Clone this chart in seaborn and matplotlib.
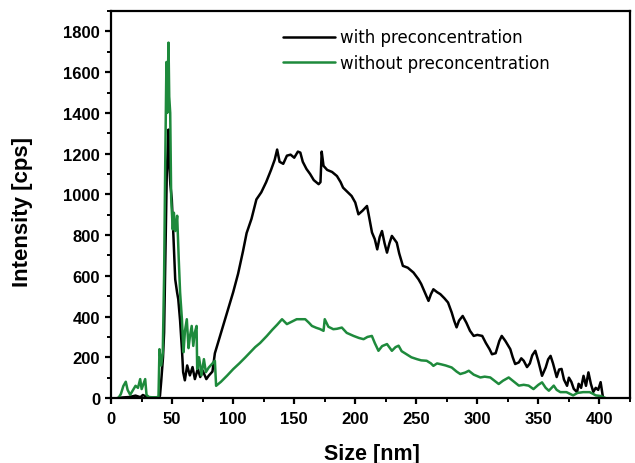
import matplotlib
matplotlib.use("Agg")
import matplotlib.pyplot as plt
from matplotlib.ticker import MultipleLocator
import pandas as pd
import seaborn as sns

# size [nm] / intensity [cps]
with_x = [5, 10, 15, 20, 24, 26, 30, 35, 39, 40, 41, 42.5, 43.4, 44.8, 45.6, 47, 47.7, 48.5, 49.7, 51,
          52.5, 54, 55, 56.5, 58, 59, 60.4, 62.3, 64.5, 66.7, 68.6, 71, 73, 75, 78, 80, 83, 85, 88, 92,
          96, 100, 104, 108, 111, 115, 119, 123, 127, 131, 134, 136, 138, 141, 144, 147, 150, 153, 155, 157,
          160, 163, 166, 168, 170, 171.5, 172.5, 174, 177, 181, 185, 188, 190, 194, 197, 200, 202.6, 206, 209.6, 211,
          213.7, 216, 218, 220, 221.9, 224, 226, 228, 230, 234, 236, 239, 243, 247.7, 251.8, 254, 257, 260, 262, 264,
          267, 269.7, 273, 276, 279, 281, 283, 285, 288, 291, 294, 297, 300, 304, 307, 310, 312, 315, 318, 320,
          323, 325, 327, 329, 331, 334, 336, 338, 340.7, 343, 345, 347.5, 350, 353, 356, 358, 360, 362, 365, 367,
          369, 371, 373.5, 375, 377, 379, 381.7, 383, 385, 387, 389, 391, 393, 395, 397, 399, 401, 402, 403]
with_y = [0, 3, 5, 12, 4, 15, 3, 2, 5, 10, 80, 200, 322, 812, 1106, 1318, 1140, 1050, 975, 800,
          583, 520, 485, 380, 240, 127, 87, 160, 111, 152, 93, 143, 103, 135, 93, 110, 130, 220, 280, 360,
          440, 520, 610, 720, 810, 880, 975, 1010, 1060, 1120, 1170, 1220, 1160, 1150, 1190, 1195, 1180, 1210, 1205, 1160,
          1125, 1100, 1070, 1060, 1050, 1060, 1210, 1140, 1120, 1110, 1090, 1060, 1033, 1010, 992, 960, 902, 920, 943, 900,
          813, 780, 730, 790, 820, 760, 714, 760, 796, 763, 710, 649, 640, 616, 583, 560, 518, 477, 510, 534,
          520, 510, 490, 469, 420, 380, 347, 380, 403, 370, 330, 305, 310, 305, 270, 240, 215, 220, 280, 305,
          280, 260, 240, 200, 167, 175, 195, 183, 152, 170, 210, 232, 180, 109, 150, 190, 207, 170, 103, 140,
          143, 90, 60, 100, 80, 45, 29, 70, 50, 109, 60, 126, 70, 30, 50, 40, 78, 40, 0]

without_x = [6, 8, 10, 12, 13.5, 15.6, 18, 20, 22, 23.8, 25, 26.5, 27.9, 29, 31, 35, 38.8, 39.6, 41, 42.3,
             43.4, 44.3, 45.3, 46, 47, 47.6, 48.4, 49.2, 50.5, 51.4, 52.5, 53.3, 54.1, 55.4, 56.5, 58, 59.3, 60.5, 62, 63.4,
             64.5, 66, 67.3, 68.5, 70, 70.5, 72, 73, 74, 76, 77.6, 80, 83, 85, 86, 90, 95, 100, 105, 110,
             114, 118, 122, 127.6, 132, 136, 140, 144, 148, 152, 155, 159, 162, 164.5, 168, 171, 174, 175, 178, 182,
             185, 189, 193, 198.6, 203, 206.8, 210, 213.6, 216, 219, 222, 226, 230, 233, 235.5, 238, 242, 246, 250.5, 254,
             258.5, 262, 264, 267, 270, 274, 279, 283, 286, 290, 293, 297, 302.5, 306, 310.6, 314, 317.5, 321, 325.7, 329,
             334, 338, 342, 346, 350, 353, 356, 358.6, 362.6, 365, 368, 373, 378.5, 382, 386.7, 392, 395, 397, 401, 405]
without_y = [0, 20, 59, 80, 40, 16, 40, 60, 50, 93, 44, 70, 93, 15, 5, 3, 5, 240, 160, 220,
             600, 1139, 1650, 1400, 1745, 1480, 1400, 980, 828, 910, 820, 845, 895, 681, 519, 387, 225, 330, 387, 245,
             300, 354, 256, 320, 354, 143, 200, 160, 111, 191, 127, 150, 170, 183, 60, 80, 110, 142, 170, 200,
             225, 250, 270, 305, 335, 360, 387, 363, 375, 387, 387, 387, 370, 354, 345, 339, 330, 387, 350, 338,
             340, 346, 320, 305, 295, 289, 300, 305, 270, 232, 255, 265, 232, 250, 257, 230, 215, 200, 191, 185,
             183, 170, 158, 170, 166, 160, 150, 130, 118, 125, 134, 115, 101, 105, 101, 85, 69, 85, 101, 85,
             61, 65, 61, 44, 65, 77, 50, 36, 61, 40, 29, 29, 13, 25, 29, 29, 20, 13, 10, 0]

labels = ["with preconcentration", "without preconcentration"]
colors = ["#000000", "#1e8a3c"]


def main():
    sns.set_style("ticks")
    plt.rcParams["font.family"] = ["Liberation Sans", "DejaVu Sans"]
    plt.rcParams["text.color"] = "black"
    plt.rcParams["axes.labelcolor"] = "black"

    fig = plt.figure(figsize=(6.35, 4.64), dpi=100)
    ax = fig.add_axes([0.175, 0.140, 0.817, 0.834])

    df = pd.concat([
        pd.DataFrame({"size": with_x, "intensity": with_y, "sample": labels[0]}),
        pd.DataFrame({"size": without_x, "intensity": without_y, "sample": labels[1]}),
    ])
    sns.lineplot(data=df, x="size", y="intensity", hue="sample", palette=colors,
                 estimator=None, sort=False, linewidth=1.8, ax=ax)

    ax.set_xlim(0, 425)
    ax.set_ylim(0, 1900)
    ax.xaxis.set_major_locator(MultipleLocator(50))
    ax.xaxis.set_minor_locator(MultipleLocator(25))
    ax.yaxis.set_major_locator(MultipleLocator(200))
    ax.yaxis.set_minor_locator(MultipleLocator(100))
    ax.yaxis.set_major_formatter(lambda v, p: f"{v:.0f}" if v <= 1800 else "")

    for s in ax.spines.values():
        s.set_linewidth(1.6)
        s.set_color("black")
    ax.tick_params(which="major", direction="out", length=4.5, width=1.6, labelsize=12,
                   colors="black", labelcolor="black")
    ax.tick_params(which="minor", direction="out", length=3, width=1.4, colors="black")
    ax.tick_params(axis="x", which="major", pad=5)
    for lab in ax.get_xticklabels() + ax.get_yticklabels():
        lab.set_fontweight("bold")

    ax.set_xlabel("Size [nm]", fontsize=15.5, fontweight="bold")
    ax.set_ylabel("Intensity [cps]", fontsize=16, fontweight="bold")
    ax.xaxis.set_label_coords(0.503, -0.117)
    ax.yaxis.set_label_coords(-0.150, 0.483)

    leg = ax.legend(frameon=False, loc="upper left", bbox_to_anchor=(0.331, 0.955), borderpad=0,
                    borderaxespad=0, handlelength=3.1, handletextpad=0.35, labelspacing=0.45,
                    prop={"family": "DejaVu Sans", "size": 12})
    for t in leg.get_texts():
        t.set_color("black")

    fig.savefig("out.png", dpi=100)


if __name__ == "__main__":
    main()
